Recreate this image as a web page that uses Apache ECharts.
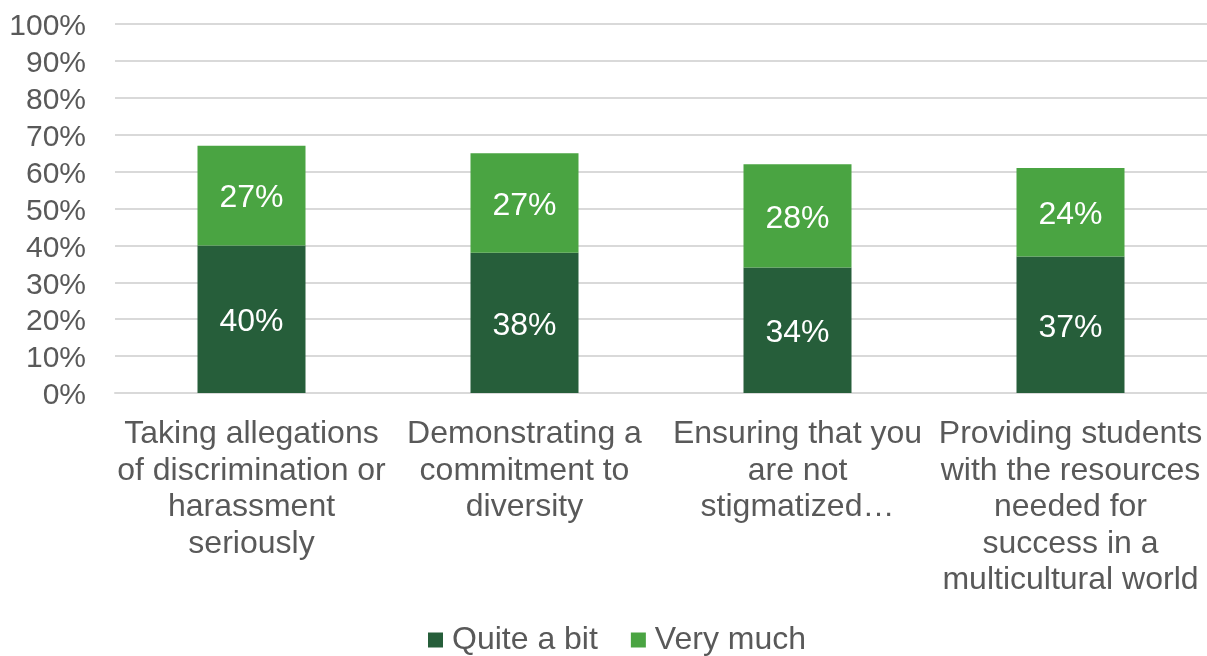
<!DOCTYPE html>
<html>
<head>
<meta charset="utf-8">
<script src="https://cdn.jsdelivr.net/npm/echarts@6/dist/echarts.min.js"></script>
<style>
html,body{margin:0;padding:0;background:#fff;}
#chart{width:1207px;height:656px;}
</style>
</head>
<body>
<div id="chart"></div>
<script>
const categories = [
  "Taking allegations\nof discrimination or\nharassment\nseriously",
  "Demonstrating a\ncommitment to\ndiversity",
  "Ensuring that you\nare not\nstigmatized…",
  "Providing students\nwith the resources\nneeded for\nsuccess in a\nmulticultural world"
];
const quiteABit = [40, 38, 34, 37];
const veryMuch = [27, 27, 28, 24];
const yTicks = [0, 10, 20, 30, 40, 50, 60, 70, 80, 90, 100];

const font = "Liberation Sans, Arial, sans-serif";
const chart = echarts.init(document.getElementById('chart'));
const labelStyle = {
  show: true, position: 'inside', color: '#ffffff',
  fontSize: 32, fontFamily: font, offset: [0, 3],
  formatter: p => p.value + '%'
};
chart.setOption({
  animation: false,
  grid: { left: 115, right: 0, top: 24, bottom: 263, containLabel: false },
  legend: {
    bottom: -5, left: 423,
    itemWidth: 15, itemHeight: 15, itemGap: 33,
    icon: 'rect',
    textStyle: { fontSize: 32, color: '#595959', fontFamily: font, padding: [0,0,0,4] },
    data: ['Quite a bit', 'Very much']
  },
  xAxis: {
    type: 'category', data: categories,
    axisLine: { show: true, lineStyle: { color: '#d9d9d9', width: 2 } },
    axisTick: { show: false },
    axisLabel: {
      interval: 0, fontSize: 32, lineHeight: 36.5, color: '#595959',
      fontFamily: font, margin: 23, align: 'center'
    }
  },
  yAxis: {
    type: 'value', min: 0, max: 100, interval: 10,
    axisLine: { show: false }, axisTick: { show: false },
    splitLine: { lineStyle: { color: '#d9d9d9', width: 2 } },
    axisLabel: {
      color: '#595959', fontFamily: font, margin: 29,
      formatter: v => yTicks.includes(v) ? '{t|' + v + '%}' : '',
      rich: { t: { fontSize: 30, color: '#595959', fontFamily: font, padding: [6, 0, 0, 0] } }
    }
  },
  series: [
    { name: 'Quite a bit', type: 'bar', stack: 'a', data: quiteABit, barWidth: 108,
      itemStyle: { color: '#265e3a' }, label: labelStyle },
    { name: 'Very much', type: 'bar', stack: 'a', data: veryMuch, barWidth: 108,
      itemStyle: { color: '#4aa442' }, label: labelStyle }
  ]
});
</script>
</body>
</html>
